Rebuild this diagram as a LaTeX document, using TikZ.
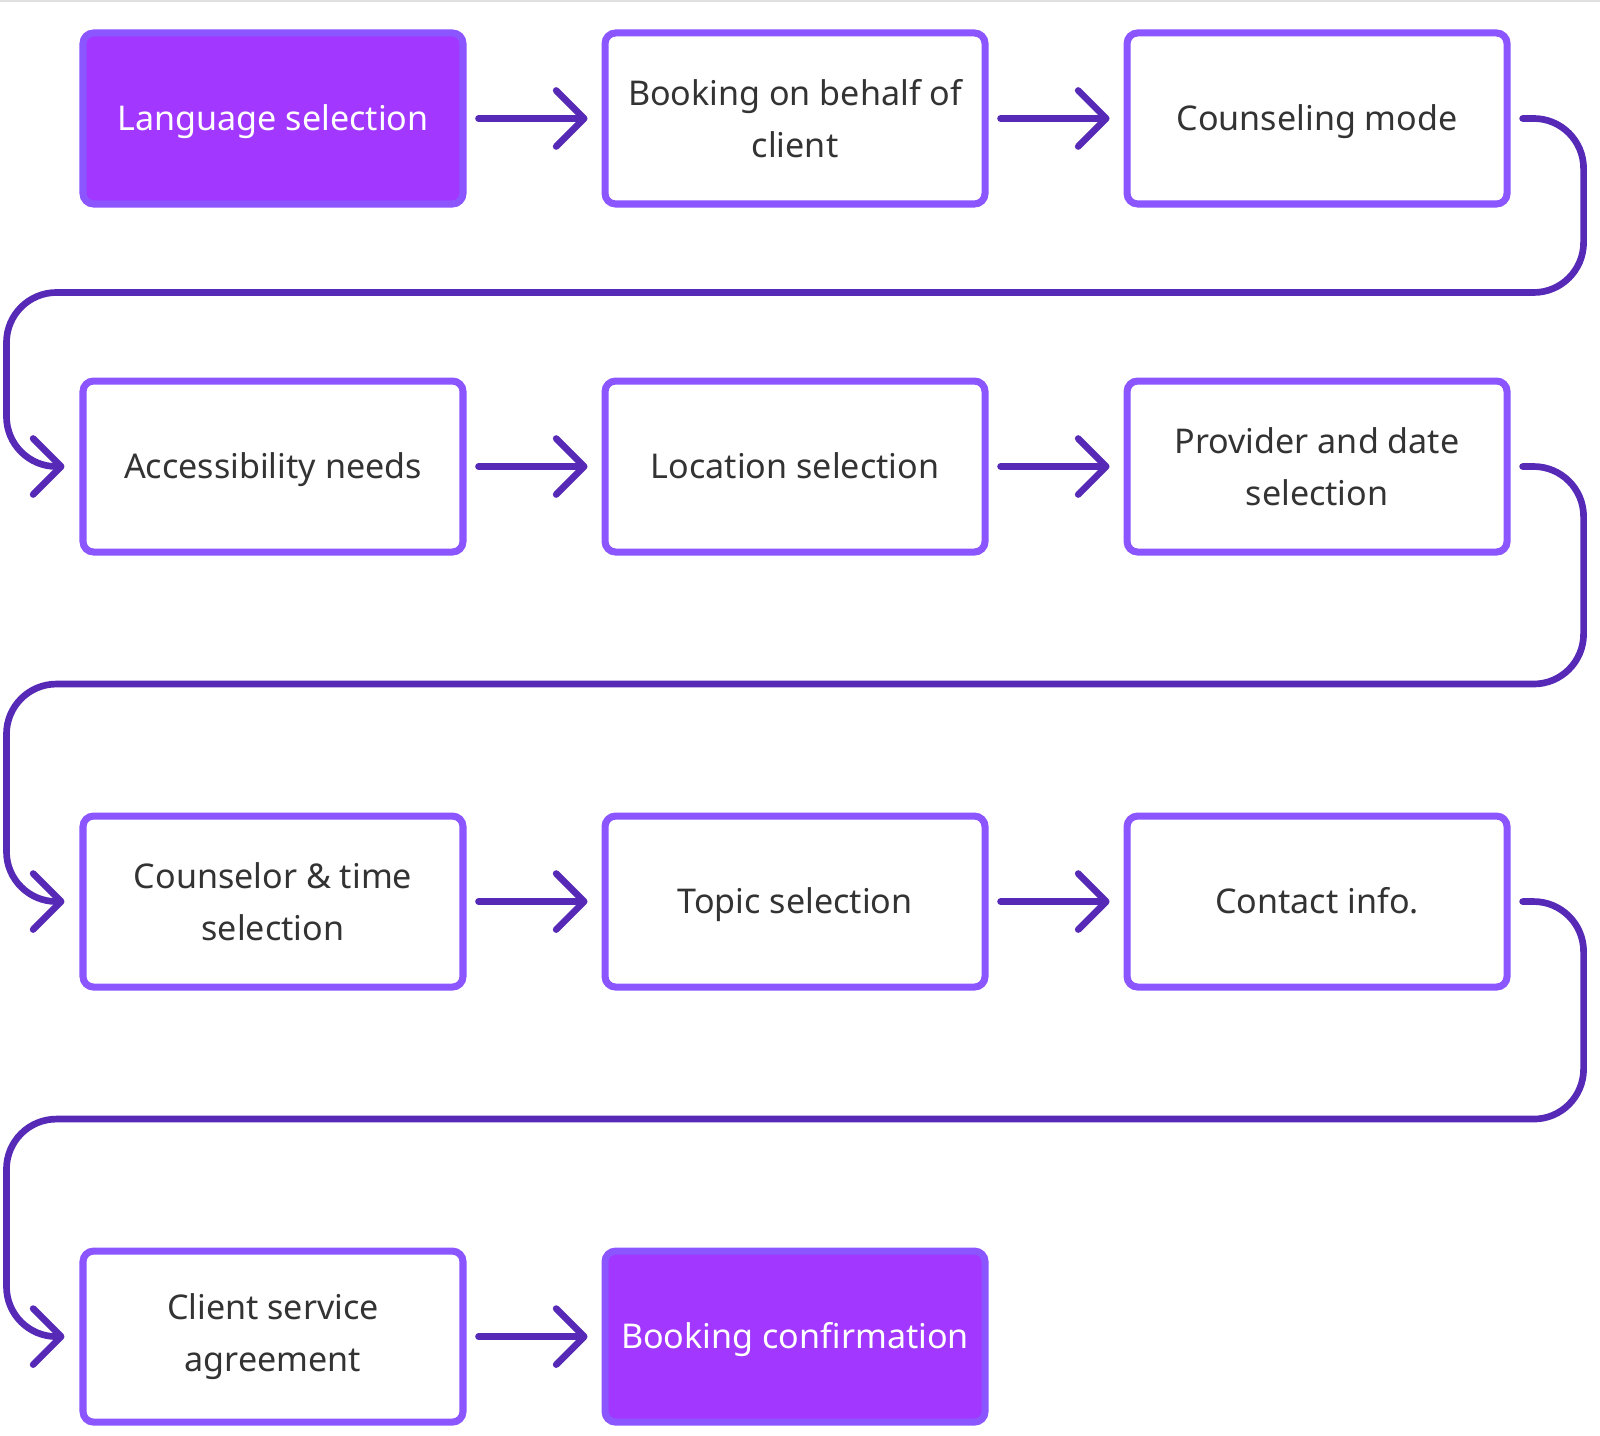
\documentclass[tikz,border=0pt]{standalone}
\usepackage{fontspec}
\setmainfont{Noto Sans}
\usepackage{tikz}
\usetikzlibrary{positioning,arrows.meta,calc}
\definecolor{boxline}{HTML}{8B55FF}
\definecolor{boxfill}{HTML}{A238FF}
\definecolor{flowline}{HTML}{5629B6}
\definecolor{boxtext}{HTML}{333333}
\tikzset{
  stepbox/.style={
    draw=boxline,
    line width=2pt,
    rectangle,
    rounded corners=3pt,
    align=center,
    text=boxtext,
    font=\fontsize{9.7}{14.8}\selectfont,
    minimum width=38mm,
    minimum height=17.1mm,
    inner sep=2pt
  },
  onelinebox/.style={
    stepbox,
    text height=6.9pt,
    text depth=0pt
  },
  stepboxhi/.style={
    onelinebox,
    fill=boxfill,
    text=white
  },
  flowarrow/.style={
    -{Straight Barb[length=2.8mm,width=5.6mm,round]},
    line width=1.9pt,
    draw=flowline,
    line cap=round,
    shorten <=1.2mm,
    shorten >=1.4mm
  },
  wrapline/.style={
    flowarrow,
    rounded corners=5mm,
    shorten <=0pt,
    shorten >=0pt
  }
}
\begin{document}
\begin{tikzpicture}[
    node distance=17mm and 13.5mm
    ]
    \useasboundingbox (0,0) rectangle (16,-14.36);
    \draw[black!12, line width=0.6pt] (0,-0.01) -- (16,-0.01);

    \node[stepboxhi] (language) at (2.73,-1.185) {Language selection};
    \node[stepbox, right=of language] (behalf) {Booking on behalf of\\client};
    \node[onelinebox, right=of behalf] (mode) {Counseling mode};

    \node[onelinebox, below=of language] (access) {Accessibility needs};
    \node[onelinebox, right=of access] (location) {Location selection};
    \node[stepbox, right=of location] (provider) {Provider and date\\selection};

    \node[stepbox, below=25.7mm of access] (counselor) {Counselor \& time\\selection};
    \node[onelinebox, right=of counselor] (topic) {Topic selection};
    \node[onelinebox, right=of topic] (contact) {Contact info.};

    \node[stepbox, below=25.7mm of counselor] (agreement) {Client service\\agreement};
    \node[stepboxhi, right=of agreement] (confirm) {Booking confirmation};

    \draw[flowarrow] (language) -- (behalf);
    \draw[flowarrow] (behalf) -- (mode);
    \draw[flowarrow] (access) -- (location);
    \draw[flowarrow] (location) -- (provider);
    \draw[flowarrow] (counselor) -- (topic);
    \draw[flowarrow] (topic) -- (contact);
    \draw[flowarrow] (agreement) -- (confirm);

    % wrap from the end of one row to the start of the next
    \coordinate (turnone) at ($(mode.south east)!0.5!(provider.north east)+(0.73,0)$);
    \coordinate (turntwo) at ($(provider.south east)!0.5!(contact.north east)+(0.73,0)$);
    \coordinate (turnthree) at ($(contact.south east)!0.5!(confirm.north east -| contact.east)+(0.73,0)$);
    \draw[wrapline] ([xshift=1.2mm]mode.east) -| (turnone)
      -| ($(access.west)+(-0.73,0)$) -- ([xshift=-1.5mm]access.west);
    \draw[wrapline] ([xshift=1.2mm]provider.east) -| (turntwo)
      -| ($(counselor.west)+(-0.73,0)$) -- ([xshift=-1.5mm]counselor.west);
    \draw[wrapline] ([xshift=1.2mm]contact.east) -| (turnthree)
      -| ($(agreement.west)+(-0.73,0)$) -- ([xshift=-1.5mm]agreement.west);
\end{tikzpicture}
\end{document}
